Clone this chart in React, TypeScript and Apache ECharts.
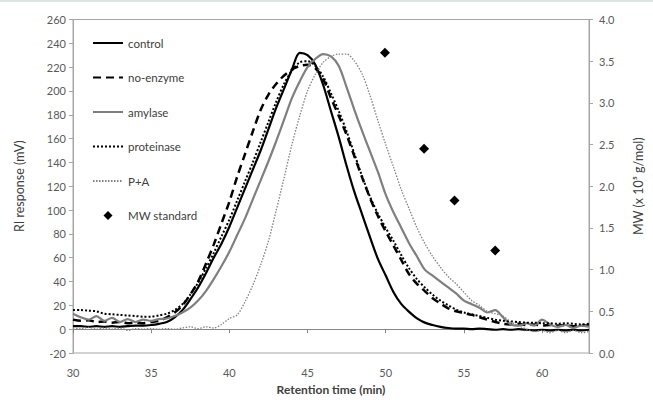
import React, { useEffect, useRef } from "react";
import * as echarts from "echarts";

const FONT = "Lato, 'Noto Sans', 'DejaVu Sans', sans-serif";

const retentionTime = [
  30, 30.5, 31, 31.5, 32, 32.5, 33, 33.5, 34, 34.5, 35, 35.5,
  36, 36.5, 37, 37.5, 38, 38.5, 39, 39.5, 40, 40.5, 41, 41.5,
  42, 42.5, 43, 43.5, 44, 44.5, 45, 45.5, 46, 46.5, 47, 47.5,
  48, 48.5, 49, 49.5, 50, 50.5, 51, 51.5, 52, 52.5, 53, 53.5,
  54, 54.5, 55, 55.5, 56, 56.5, 57, 57.5, 58, 58.5, 59, 59.5,
  60, 60.5, 61, 61.5, 62, 62.5, 63,
];

const control = [
  2.5, 2.5, 2, 2.5, 2, 2.5, 2, 2.5, 3, 3, 3.5, 4.5,
  6, 10, 16, 25, 35, 47, 60, 72, 86, 102, 118, 134,
  150, 168, 186, 202, 218, 232, 230, 222, 205, 183, 161, 137,
  115, 96, 77, 59, 45, 31, 21, 14.5, 9, 5.5, 3.5, 2,
  1, 0.5, 0.5, 0, 0.5, 0, -0.5, 0, -0.5, 0, -0.5, -1,
  -0.5, -1, -0.5, -1, -0.5, -1, -0.5,
];

const noEnzyme = [
  8, 7, 7.5, 6, 6.5, 5.5, 6, 5, 5.5, 5, 6, 7,
  10, 14, 20, 29, 40, 55, 71, 89, 107, 128, 147, 166,
  184, 197, 206, 213, 218, 221, 222, 219, 210, 194, 179, 163,
  145, 127, 110, 95, 82, 70, 58, 46, 38, 32, 26, 21.5,
  17.5, 15, 13.5, 12, 10, 8, 6, 4.5, 4, 4.5, 3.5, 4,
  3, 3.5, 3, 3.5, 2.5, 3, 3,
];

const amylase = [
  13, 10, 8, 11, 7, 9.5, 6, 8.5, 6, 8, 7, 8.5,
  9, 11, 14, 18, 24, 32, 42, 53, 65, 79, 93, 109,
  125, 141, 158, 176, 194, 208, 220, 227, 231, 229, 221, 203,
  184, 166, 149, 132, 113, 98, 85, 72, 61, 50, 45, 40,
  35, 30, 24, 21, 18, 14, 16, 10, 4, 3, 5, 3,
  8, 4, 2, 3.5, 1, 3, 2,
];

const proteinase = [
  16, 16, 15.5, 15, 13, 12.5, 12, 11.5, 11, 10.5, 10.5, 11.5,
  13, 16, 21, 29, 39, 51, 64, 78, 92, 108, 124, 140,
  157, 174, 191, 206, 217, 224, 225, 221, 212, 198, 183, 166,
  147, 128, 111, 97, 85, 74, 62, 51, 42, 35, 29, 24,
  20, 16.5, 14, 12.5, 11, 9.5, 8, 7, 6.5, 6, 5.5, 5.5,
  5, 5, 4.5, 5, 4.5, 4, 4.5,
];

const pPlusA = [
  1, 0.5, 1.5, 0, 1, 0, 1, -1, 0.5, 0, 0.5, 0,
  0.5, 0, 1, 2, 0.5, 2, 1, 4, 9, 12, 23, 37,
  54, 74, 100, 127, 155, 179, 200, 214, 224, 229, 231, 231,
  225, 214, 196, 175, 155, 136, 117, 101, 85, 72, 61, 52,
  44, 38, 31, 24, 20, 15, 13, 11, 6, 3, 0, -2,
  -1, -3, -1, -3, -1, -3, -2,
];

const mwStandardTime = [49.95, 52.45, 54.4, 57.0];
const mwStandardValue = [3.6, 2.45, 1.83, 1.23];

const xTicks = { min: 30, max: 63, interval: 5 };
const riTicks = { min: -20, max: 260, interval: 20 };
const mwTicks = { min: 0, max: 4, interval: 0.5 };

const lineNames = ["control", "no-enzyme", "amylase", "proteinase", "P+A"];
const scatterName = "MW standard";

const zip = (ys: number[]) => retentionTime.map((t, i) => [t, ys[i]]);

export default function App() {
  const ref = useRef<HTMLDivElement>(null);
  useEffect(() => {
    if (!ref.current) return;
    const chart = echarts.init(ref.current, undefined, { renderer: "svg" });
    const axisGray = "#a6a6a6";
    const labelStyle = { color: "#595959", fontSize: 11, fontFamily: FONT };
    const line = (
      name: string,
      data: number[],
      color: string,
      width: number,
      type: any
    ) => ({
      name,
      type: "line",
      data: zip(data),
      symbol: "none",
      smooth: 0.3,
      itemStyle: { color },
      lineStyle: { color, width, type },
      emphasis: { disabled: true },
    });
    chart.setOption({
      animation: false,
      backgroundColor: "#ffffff",
      textStyle: { fontFamily: FONT },
      graphic: [
        {
          type: "rect",
          shape: { x: 0, y: 0, width: 653, height: 2 },
          style: { fill: "#dde5e1" },
          silent: true,
        },
      ],
      grid: {
        left: 73,
        right: 60,
        top: 19.5,
        bottom: 20,
        show: true,
        borderColor: axisGray,
        borderWidth: 1,
      },
      legend: {
        orient: "vertical",
        left: 92,
        top: 36,
        padding: 0,
        itemWidth: 30,
        itemHeight: 9,
        itemGap: 20.5,
        textStyle: { color: "#404040", fontSize: 11.5, lineHeight: 14, fontFamily: FONT },
        data: [
          ...lineNames.map((n) => ({ name: n, itemStyle: { opacity: 0 } })),
          { name: scatterName, icon: "path://M5,0 L10,5 L5,10 L0,5 Z", itemStyle: { opacity: 1 } },
        ],
      },
      xAxis: {
        type: "value",
        min: xTicks.min,
        max: xTicks.max,
        interval: xTicks.interval,
        name: "Retention time (min)",
        nameLocation: "middle",
        nameGap: 30,
        nameTextStyle: { fontSize: 12, fontWeight: "bold", color: "#404040", fontFamily: FONT },
        axisLine: { onZero: true, lineStyle: { color: "#868686" } },
        axisTick: { length: 4, lineStyle: { color: "#868686" } },
        axisLabel: { ...labelStyle, margin: 14, showMaxLabel: false },
        splitLine: { show: false },
      },
      yAxis: [
        {
          type: "value",
          position: "left",
          min: riTicks.min,
          max: riTicks.max,
          interval: riTicks.interval,
          name: "RI response (mV)",
          nameLocation: "middle",
          nameGap: 47,
          nameTextStyle: { fontSize: 12.5, color: "#404040", fontFamily: FONT },
          axisLine: { show: true, lineStyle: { color: axisGray } },
          axisTick: { show: true, length: 4, lineStyle: { color: axisGray } },
          axisLabel: { ...labelStyle, margin: 7 },
          splitLine: { show: false },
        },
        {
          type: "value",
          position: "right",
          min: mwTicks.min,
          max: mwTicks.max,
          interval: mwTicks.interval,
          name: "MW (x 10\u2075 g/mol)",
          nameLocation: "middle",
          nameGap: 43,
          nameTextStyle: { fontSize: 12.5, color: "#404040", fontFamily: FONT },
          axisLine: { show: true, lineStyle: { color: axisGray } },
          axisTick: { show: true, length: 4, lineStyle: { color: axisGray } },
          axisLabel: { ...labelStyle, margin: 10, formatter: (v: number) => v.toFixed(1) },
          splitLine: { show: false },
        },
      ],
      series: [
        line("control", control, "#000000", 2.2, "solid"),
        line("no-enzyme", noEnzyme, "#000000", 2.5, [8, 5]),
        line("amylase", amylase, "#7f7f7f", 2.2, "solid"),
        line("proteinase", proteinase, "#000000", 2, [2, 2]),
        line("P+A", pPlusA, "#808080", 1.3, [1.5, 1.5]),
        {
          name: scatterName,
          type: "scatter",
          yAxisIndex: 1,
          symbol: "diamond",
          symbolSize: 10,
          itemStyle: { color: "#000000", opacity: 1 },
          data: mwStandardTime.map((t, i) => [t, mwStandardValue[i]]),
          emphasis: { disabled: true },
        },
      ],
    });
    return () => chart.dispose();
  }, []);
  return (
    <div
      ref={ref}
      style={{ position: "fixed", left: 0, top: 0, width: 653, height: 400, background: "#fff" }}
    />
  );
}
